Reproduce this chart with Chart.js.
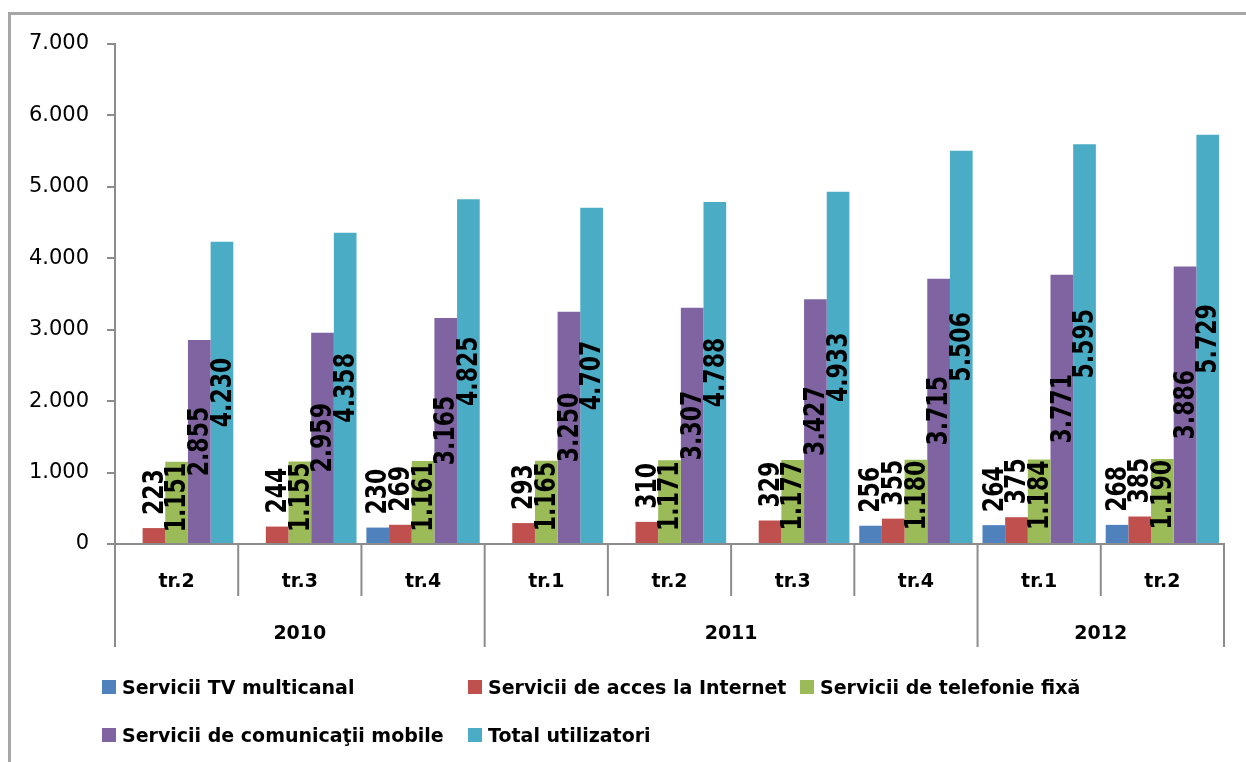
<!DOCTYPE html>
<html lang="ro">
<head>
<meta charset="utf-8">
<title>Utilizatori servicii</title>
<script src="https://cdn.jsdelivr.net/npm/chart.js@4/dist/chart.umd.min.js"></script>
<style>
    html, body { margin: 0; padding: 0; background: #fff; }
    #wrap { position: relative; width: 1246px; height: 762px; overflow: hidden; }
    #cadru { position: absolute; left: 8px; top: 12px; width: 1300px; height: 800px;
             border-left: 3px solid #a6a6a6; border-top: 3px solid #a6a6a6; }
    #grafic { position: absolute; left: 0; top: 0; }
    #legenda { position: absolute; left: 102px; top: 675px; display: grid;
               grid-template-columns: 366px 332px auto; grid-auto-rows: 48px;
               font: bold 19px "DejaVu Sans", sans-serif; color: #000; }
    #legenda div { display: flex; align-items: center; height: 24px; white-space: nowrap; }
    #legenda span.patrat { display: inline-block; width: 14px; height: 14px; margin-right: 6px; }
</style>
</head>
<body>
<div id="wrap">
    <div id="cadru"></div>
    <canvas id="grafic" width="1246" height="762"></canvas>
    <div id="legenda"></div>
</div>
<script>
// --- DATE ---
const trimestre = ['tr.2', 'tr.3', 'tr.4', 'tr.1', 'tr.2', 'tr.3', 'tr.4', 'tr.1', 'tr.2'];
const aniTrimestre = ['2010', '2010', '2010', '2011', '2011', '2011', '2011', '2012', '2012'];

const serviciiTV = [null, null, 230, null, null, null, 256, 264, 268];
const accesInternet = [223, 244, 269, 293, 310, 329, 355, 375, 385];
const telefonieFixa = [1151, 1155, 1161, 1165, 1171, 1177, 1180, 1184, 1190];
const comunicatiiMobile = [2855, 2959, 3165, 3250, 3307, 3427, 3715, 3771, 3886];
const totalUtilizatori = [4230, 4358, 4825, 4707, 4788, 4933, 5506, 5595, 5729];

const numeSerii = ['Servicii TV multicanal', 'Servicii de acces la Internet', 'Servicii de telefonie fixă',
    'Servicii de comunicaţii mobile', 'Total utilizatori'];
const culori = ['#4F81BD', '#C0504D', '#9BBB59', '#8064A2', '#4BACC6'];

// pozitia etichetei pentru fiecare serie (ca in Excel)
const pozitiiEtichete = ['deasupra', 'deasupra', 'interiorSus', 'centru', 'centru'];

const formatNumar = v => String(v).replace(/\B(?=(\d{3})+(?!\d))/g, '.');

const FONT = '"DejaVu Sans", sans-serif';
const GRI = '#8c8c8c';

// --- PLUGIN: ETICHETE PE BARE ---
const eticheteBare = {
    id: 'eticheteBare',
    afterDatasetsDraw(chart) {
        const ctx = chart.ctx;
        chart.data.datasets.forEach((ds, d) => {
            const meta = chart.getDatasetMeta(d);
            meta.data.forEach((bar, i) => {
                const v = ds.data[i];
                if (v === null || v === undefined) return;
                const poz = pozitiiEtichete[d];
                ctx.save();
                ctx.font = 'bold 22px ' + FONT;
                ctx.fillStyle = '#000';
                ctx.textBaseline = 'middle';
                let y;
                if (poz === 'deasupra') {
                    y = bar.y - 13;
                    ctx.textAlign = 'left';
                } else if (poz === 'interiorSus') {
                    y = bar.y + 1;
                    ctx.textAlign = 'right';
                } else {
                    y = (bar.y + bar.base) / 2;
                    ctx.textAlign = 'center';
                }
                ctx.translate(bar.x, y);
                ctx.rotate(-Math.PI / 2);
                ctx.scale(1, 1.3);
                ctx.fillText(formatNumar(v), 0, 1);
                ctx.restore();
            });
        });
    }
};

// --- PLUGIN: AXA PE DOUA NIVELURI (trimestre / ani) ---
const axaAni = {
    id: 'axaAni',
    afterDraw(chart) {
        const ctx = chart.ctx;
        const x = chart.scales.x;
        const area = chart.chartArea;
        const n = trimestre.length;
        const limite = [];
        for (let i = 0; i <= n; i++) {
            if (i === 0) limite.push(area.left);
            else if (i === n) limite.push(area.right);
            else limite.push((x.getPixelForValue(i - 1) + x.getPixelForValue(i)) / 2);
        }
        ctx.save();
        ctx.strokeStyle = GRI;
        ctx.lineWidth = 2;
        for (let i = 0; i <= n; i++) {
            const schimbaAn = i === 0 || i === n || aniTrimestre[i] !== aniTrimestre[i - 1];
            ctx.beginPath();
            ctx.moveTo(limite[i], area.bottom);
            ctx.lineTo(limite[i], schimbaAn ? 647 : 596);
            ctx.stroke();
        }
        // etichete ani
        ctx.font = 'bold 19px ' + FONT;
        ctx.fillStyle = '#000';
        ctx.textAlign = 'center';
        ctx.textBaseline = 'middle';
        let start = 0;
        for (let i = 1; i <= n; i++) {
            if (i === n || aniTrimestre[i] !== aniTrimestre[start]) {
                ctx.fillText(aniTrimestre[start], (limite[start] + limite[i]) / 2, 634);
                start = i;
            }
        }
        ctx.restore();
    }
};

function inicializareGrafic() {
    const ctx = document.getElementById('grafic').getContext('2d');
    const serii = [serviciiTV, accesInternet, telefonieFixa, comunicatiiMobile, totalUtilizatori];

    new Chart(ctx, {
        type: 'bar',
        data: {
            labels: trimestre,
            datasets: serii.map((valori, k) => ({
                label: numeSerii[k],
                data: valori,
                backgroundColor: culori[k],
                borderWidth: 0,
                categoryPercentage: 0.92,
                barPercentage: 1.0
            }))
        },
        options: {
            responsive: false,
            animation: false,
            layout: { padding: { left: 0, top: 44, right: 22, bottom: 0 } },
            plugins: {
                legend: { display: false },
                tooltip: { enabled: false }
            },
            scales: {
                x: {
                    afterFit: s => { s.height = 218; },
                    grid: { display: false, drawTicks: false },
                    border: { display: true, color: GRI, width: 2 },
                    ticks: {
                        padding: 27,
                        color: '#000',
                        font: { family: FONT, size: 19, weight: 'bold' }
                    }
                },
                y: {
                    min: 0,
                    max: 7000,
                    afterFit: s => { s.width = 115; },
                    grid: { drawOnChartArea: false, drawTicks: true, tickLength: 8, color: GRI, lineWidth: 2 },
                    border: { display: true, color: GRI, width: 2 },
                    ticks: {
                        stepSize: 1000,
                        padding: 18,
                        color: '#000',
                        font: { family: FONT, size: 21 },
                        callback: v => formatNumar(v)
                    }
                }
            }
        },
        plugins: [eticheteBare, axaAni]
    });

    // legenda HTML
    const leg = document.getElementById('legenda');
    numeSerii.forEach((nume, k) => {
        const el = document.createElement('div');
        el.innerHTML = `<span class="patrat" style="background:${culori[k]}"></span>${nume}`;
        leg.appendChild(el);
    });
}

document.addEventListener('DOMContentLoaded', inicializareGrafic);
</script>
</body>
</html>
